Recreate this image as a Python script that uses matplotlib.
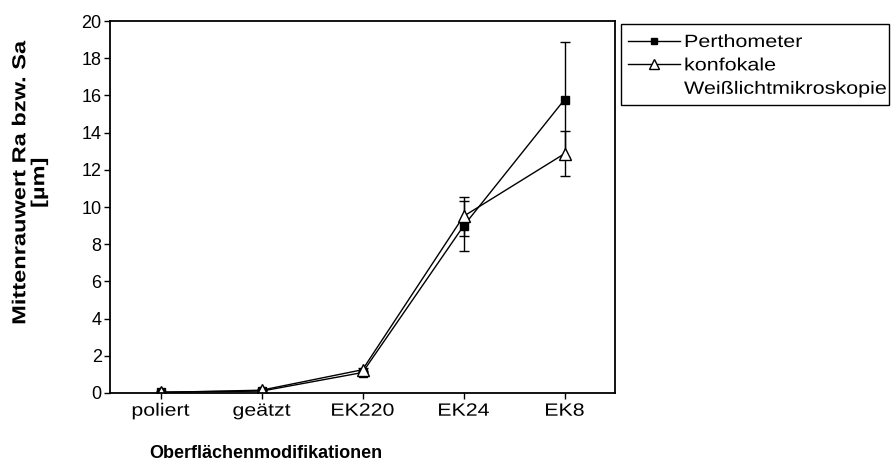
import matplotlib.pyplot as plt
from matplotlib.lines import Line2D
from matplotlib.patches import Rectangle
from matplotlib.patheffects import AbstractPathEffect
from matplotlib.transforms import Affine2D
import numpy as np

plt.rcParams['font.family'] = ['Liberation Sans', 'DejaVu Sans']

# surface modifications
categories = ['poliert', 'geätzt', 'EK220', 'EK24', 'EK8']

# Ra from the stylus instrument (Perthometer)
ra_mean = [0.05, 0.1, 1.1, 8.98, 15.78]
ra_err = [0.03, 0.05, 0.1, 1.33, 3.07]

# Sa from confocal white light microscopy
sa_mean = [0.03, 0.15, 1.25, 9.5, 12.87]
sa_err = [0.03, 0.05, 0.1, 1.05, 1.2]


class Stretch(AbstractPathEffect):
    """Widen text glyphs along the baseline."""

    def __init__(self, sx, anchor='center'):
        super().__init__()
        self.sx = sx
        self.anchor = anchor

    def draw_path(self, renderer, gc, tpath, affine, rgbFace=None):
        if self.anchor == 'left':
            x0 = 0.0
        else:
            ext = tpath.get_extents()
            x0 = (ext.x0 + ext.x1) / 2
        t = Affine2D().translate(-x0, 0).scale(self.sx, 1).translate(x0, 0)
        renderer.draw_path(gc, tpath, t + affine, rgbFace)


fig = plt.figure(figsize=(8.93, 4.66), dpi=100)
ax = fig.add_axes([0.1232, 0.1567, 0.5655, 0.798])

x = np.arange(len(categories))
ax.errorbar(x, ra_mean, yerr=ra_err, color='black', lw=1, marker='s', ms=6.3,
            mfc='black', mec='black', capsize=3.3, elinewidth=1, capthick=1)
ax.errorbar(x, sa_mean, yerr=sa_err, color='black', lw=1, marker='^', ms=8,
            mfc='white', mec='black', capsize=3.3, elinewidth=1, capthick=1)

ax.set_xlim(-0.5, 4.5)
ax.set_ylim(0, 20)
ax.set_xticks(x)
ax.set_xticklabels(categories)
ax.set_yticks(np.arange(0, 21, 2))
ax.tick_params(axis='x', labelsize=12.8, direction='out', length=4, width=1, pad=3)
ax.tick_params(axis='y', labelsize=13, direction='out', length=4, width=1, pad=2)
for lbl in ax.get_xticklabels():
    lbl.set_path_effects([Stretch(1.2)])
for s in ax.spines.values():
    s.set_linewidth(1.3)

ax.set_ylabel('Mittenrauwert Ra bzw. Sa\n[µm]', fontsize=13.5, fontweight='bold',
              linespacing=1.15, ha='center', va='center',
              path_effects=[Stretch(1.26)])
ax.yaxis.set_label_coords(-0.158, 0.565)
fig.text(266 / 893, 1 - 453 / 466, 'Oberflächenmodifikationen', fontsize=13,
         fontweight='bold', ha='center', va='center')

# legend: handles and labels, with a separate frame running to the edge
handles = [
    Line2D([], [], color='black', lw=1, marker='s', ms=5, mfc='black'),
    Line2D([], [], color='black', lw=1, marker='^', ms=6.5, mfc='white'),
    Line2D([], [], color='none'),
]
labels = ['Perthometer', 'konfokale', 'Weißlichtmikroskopie']
leg = fig.legend(handles, labels, loc='upper left',
                 bbox_to_anchor=(628 / 893, 1 - 34 / 466), fontsize=12.8,
                 frameon=False, borderaxespad=0, borderpad=0,
                 labelspacing=0.36, handlelength=2.95, handletextpad=0.2)
for t in leg.get_texts():
    t.set_path_effects([Stretch(1.21, anchor='left')])

fig.add_artist(Rectangle((621 / 893, 1 - 105 / 466), (889 - 621) / 893,
                         (105 - 24) / 466, transform=fig.transFigure,
                         fill=False, lw=1, ec='black'))

fig.savefig('out.png', dpi=100)
